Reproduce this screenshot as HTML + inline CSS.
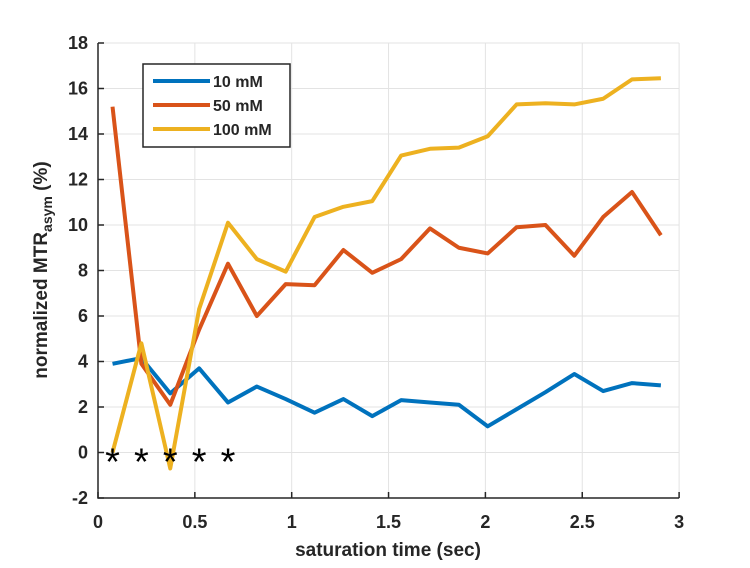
<!DOCTYPE html>
<html><head><meta charset="utf-8"><style>
body{margin:0;background:#fff}
svg text{font-family:"Liberation Sans",Arial,sans-serif;font-weight:bold;fill:#262626}
</style></head><body>
<svg id="chart" width="750" height="563">
<g id="grid"></g><g id="axes"></g><g id="series"></g>
<text x="388" y="556" font-size="19" text-anchor="middle">saturation time (sec)</text>
<text transform="translate(47,270) rotate(-90)" font-size="19" text-anchor="middle">normalized MTR<tspan font-size="14" dy="5">asym</tspan><tspan dy="-5"> (%)</tspan></text>
<g>
<rect x="143" y="64" width="147" height="83" fill="#fff" stroke="#262626" stroke-width="1.5"/>
<line x1="153" y1="81" x2="210" y2="81" stroke="#0072BD" stroke-width="4"/>
<text x="213" y="87" font-size="16">10 mM</text>
<line x1="153" y1="105" x2="210" y2="105" stroke="#D95319" stroke-width="4"/>
<text x="213" y="111" font-size="16">50 mM</text>
<line x1="153" y1="129" x2="210" y2="129" stroke="#EDB120" stroke-width="4"/>
<text x="213" y="135" font-size="16">100 mM</text>
</g>
</svg>
<script>
const times=[0.075,0.224,0.373,0.522,0.671,0.82,0.969,1.118,1.267,1.416,1.565,1.714,1.863,2.012,2.161,2.31,2.459,2.608,2.757,2.906];
const s10=[3.9,4.15,2.6,3.7,2.2,2.9,2.35,1.75,2.35,1.6,2.3,2.2,2.1,1.15,1.9,2.65,3.45,2.7,3.05,2.95];
const s50=[15.2,3.9,2.1,5.4,8.3,6.0,7.4,7.35,8.9,7.9,8.5,9.85,9.0,8.75,9.9,10.0,8.65,10.35,11.45,9.55];
const s100=[0,4.8,-0.7,6.3,10.1,8.5,7.95,10.35,10.8,11.05,13.05,13.35,13.4,13.9,15.3,15.35,15.3,15.55,16.4,16.45];
const xTicks=[0,0.5,1,1.5,2,2.5,3];
const yTicks=[-2,0,2,4,6,8,10,12,14,16,18];
const starTimes=[0.075,0.224,0.373,0.522,0.671];
const X=v=>98+v*193.7, Y=v=>498-(v+2)*22.75;
const NS="http://www.w3.org/2000/svg";
function mk(t,a,p){const e=document.createElementNS(NS,t);for(const k in a)e.setAttribute(k,a[k]);p.appendChild(e);return e;}
const grid=document.getElementById('grid'),axes=document.getElementById('axes'),ser=document.getElementById('series');
xTicks.forEach(t=>{
 const g=mk('line',{x1:X(t),x2:X(t),y1:Y(18),y2:Y(-2),stroke:'#e3e3e3','stroke-width':1},grid);
 
 
 const tk=mk('line',{x1:X(t),x2:X(t),y1:Y(-2),y2:Y(-2)-6,stroke:'#262626','stroke-width':1.5},axes);
 
 
 const l=mk('text',{x:X(t),y:528,'font-size':18,'text-anchor':'middle'},axes);l.textContent=t;
 
 
});
yTicks.forEach(t=>{
 const g=mk('line',{x1:X(0),x2:X(3),y1:Y(t),y2:Y(t),stroke:'#e3e3e3','stroke-width':1},grid);
 
 
 const tk=mk('line',{x1:X(0),x2:X(0)+6,y1:Y(t),y2:Y(t),stroke:'#262626','stroke-width':1.5},axes);
 
 
 const l=mk('text',{x:88,y:Y(t)+6,'font-size':18,'text-anchor':'end'},axes);l.textContent=t;
 
 
});
const ax=mk('path',{d:`M${X(0)},${Y(18)}V${Y(-2)}H${X(3)}`,fill:'none',stroke:'#262626','stroke-width':1.5},axes);


[[s10,'#0072BD','line-10mm'],[s50,'#D95319','line-50mm'],[s100,'#EDB120','line-100mm']].forEach(([d,c,n])=>{
 const p=mk('polyline',{points:d.map((v,i)=>X(times[i])+','+Y(v)).join(' '),fill:'none',stroke:c,'stroke-width':4,'stroke-linejoin':'round'},ser);
 
 
});
starTimes.forEach(t=>{
 const s=mk('text',{x:X(t),y:Y(0)+22,'font-size':38,'text-anchor':'middle',style:'fill:#000;font-weight:normal'},ser);s.textContent='*';
 
 
});
</script>
</body></html>
